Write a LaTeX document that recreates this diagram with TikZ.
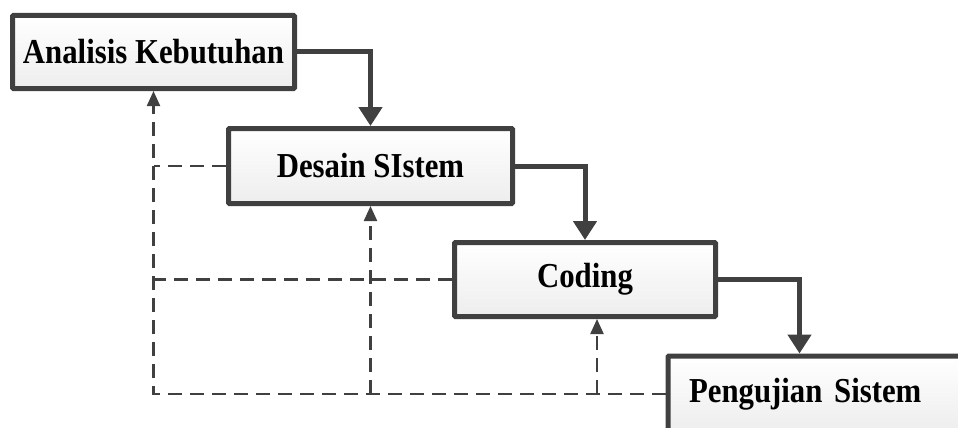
\documentclass[tikz,border=0pt]{standalone}
\usepackage{fontspec}
\setmainfont{Liberation Serif}[FakeStretch=0.88]
\usetikzlibrary{arrows.meta,shadows}
\definecolor{linegray}{RGB}{64,64,64}
\begin{document}
\begin{tikzpicture}[x=1pt,y=1pt,
    phase/.style={draw=linegray,line width=5pt,rounded corners=1pt,
      top color=white,bottom color=gray!14,
      drop shadow={shadow xshift=2pt,shadow yshift=-2pt,fill=gray!25,opacity=.6},
      font=\bfseries\fontsize{35}{35}\selectfont,text=black,inner sep=0pt},
    flow/.style={draw=linegray,line width=5pt,-{Triangle[width=23pt,length=19pt]}},
    back/.style={draw=linegray,line width=2.2pt,dash pattern=on 14pt off 8pt,
      -{Triangle[width=13pt,length=15pt]}},
    line/.style={draw=linegray,line width=2.2pt,dash pattern=on 14pt off 8pt}]
  \useasboundingbox (0,0) rectangle (958,-428);
  \node[phase,minimum width=282pt,minimum height=73pt] (ana) at (153.5,-52) {Analisis Kebutuhan};
  \node[phase,minimum width=284pt,minimum height=75pt] (des) at (370.5,-166) {Desain SIstem};
  \node[phase,minimum width=261pt,minimum height=74pt] (cod) at (585,-279.5) {Coding};
  \node[phase,minimum height=76pt,text width=290pt,inner xsep=21pt,align=left,
    anchor=west] (pen) at (665.5,-394) {Pengujian Sistem};
  % forward flow
  \draw[flow] (ana.east) -| (des.north);
  \draw[flow] (des.east) -| (cod.north);
  \draw[flow] (cod.east) -| ([xshift=-34.5pt]pen.north);
  % feedback
  \draw[back] (pen.west) -| (ana.south);
  \draw[back] (pen.west -| des.south) -- (des.south);
  \draw[back] ([xshift=12pt]pen.west -| cod.south) -- ([xshift=12pt]cod.south);
  \draw[line] (des.west) -- (des.west -| ana.south);
  \draw[line] (cod.west) -- (cod.west -| ana.south);
\end{tikzpicture}
\end{document}
